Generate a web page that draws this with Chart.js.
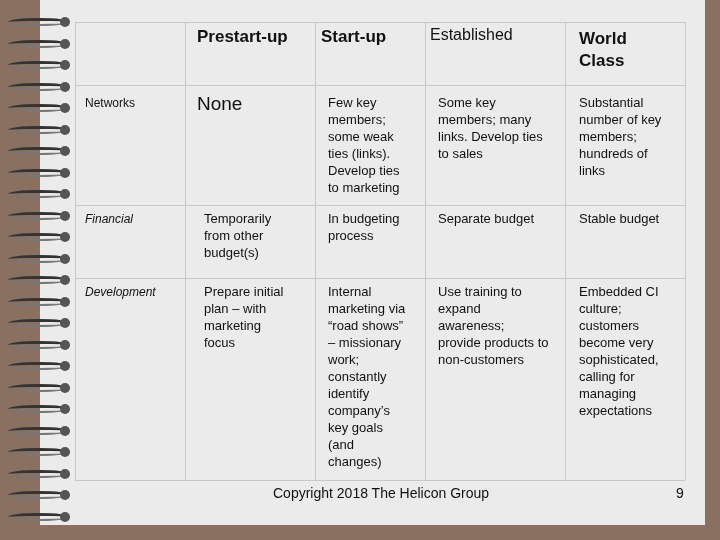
<!DOCTYPE html>
<html><head><meta charset="utf-8">
<script src="https://cdn.jsdelivr.net/npm/chart.js@4"></script>
<style>
body{margin:0;width:720px;height:540px;background:#8a7060;position:relative;overflow:hidden;font-family:"Liberation Sans",Arial,sans-serif;}
#page{position:absolute;left:40px;top:0;width:665px;height:525px;background:#ebebeb;}
#c{position:absolute;left:0;top:0;}
.t{position:absolute;font-size:13px;line-height:17px;color:#111;}
.h{font-size:17px;font-weight:bold;line-height:22px;}
.ring{position:absolute;left:8px;width:62px;height:8px;border-radius:50%;border-top:3px solid #333;border-bottom:2px solid #777;box-sizing:border-box;}
.hole{position:absolute;left:60px;width:10px;height:10px;border-radius:50%;background:#555;}
</style></head><body>
<div id="page"></div>
<div id="rings"></div>
<canvas id="c" width="720" height="540"></canvas>
<div id="txt"></div>
<script>
const colBorders=[75,185,315,425,565,685];
const rowBorders=[22,85,205,278,480];
const headers=["Prestart-up","Start-up","Established","World\nClass"];
const rowLabels=["Networks","Financial","Development"];
const cells=[
["None","Few key members; some weak ties (links). Develop ties to marketing","Some key members; many links. Develop ties to sales","Substantial number of key members; hundreds of links"],
["Temporarily from other budget(s)","In budgeting process","Separate budget","Stable budget"],
["Prepare initial plan – with marketing focus","Internal marketing via “road shows” – missionary work; constantly identify company’s key goals (and changes)","Use training to expand awareness; provide products to non-customers","Embedded CI culture; customers become very sophisticated, calling for managing expectations"]];
const footer="Copyright 2018 The Helicon Group";

let r='';for(let y=18;y<520;y+=21.5){r+=`<div class="ring" style="top:${y}px"></div><div class="hole" style="top:${y-1}px"></div>`;}
document.getElementById('rings').innerHTML=r;

const grid={id:'grid',afterDraw(ch){const c=ch.ctx,xs=ch.scales.x,ys=ch.scales.y;c.save();c.strokeStyle='#c8c8c8';c.lineWidth=1;
colBorders.forEach(v=>{const p=Math.round(xs.getPixelForValue(v))+.5;c.beginPath();c.moveTo(p,ys.getPixelForValue(rowBorders[0]));c.lineTo(p,ys.getPixelForValue(rowBorders[rowBorders.length-1]));c.stroke();});
rowBorders.forEach(v=>{const p=Math.round(ys.getPixelForValue(v))+.5;c.beginPath();c.moveTo(xs.getPixelForValue(colBorders[0]),p);c.lineTo(xs.getPixelForValue(colBorders[colBorders.length-1]),p);c.stroke();});
c.restore();}};
new Chart(document.getElementById('c'),{type:'scatter',data:{datasets:[{data:[]}]},
options:{responsive:false,animation:false,layout:{padding:0},plugins:{legend:{display:false},tooltip:{enabled:false}},
scales:{x:{type:'linear',min:0,max:720,display:false},y:{type:'linear',min:0,max:540,reverse:true,display:false}}},plugins:[grid]});

let h='';
const hx=[197,321,430,579],hy=[26,26,24,28];
headers.forEach((s,i)=>{h+=`<div class="t h" style="left:${hx[i]}px;top:${hy[i]}px;${i==2?'font-weight:normal;font-size:16px':''}">${s.replace('\n','<br>')}</div>`;});
const ry=[95,211,284],rx=[85,85,85];
rowLabels.forEach((s,i)=>{h+=`<div class="t" style="left:${rx[i]}px;top:${ry[i]}px;font-size:12px;${i?'font-style:italic':''}">${s}</div>`;});
const cx=[204,328,438,579],cw=[90,80,112,95];
cells.forEach((row,i)=>row.forEach((s,j)=>{
 if(i==0&&j==0){h+=`<div class="t" style="left:197px;top:92px;font-size:19px;line-height:24px">${s}</div>`;return;}
 h+=`<div class="t" style="left:${cx[j]}px;top:${ry[i]-1}px;width:${cw[j]}px">${s}</div>`;}));
h+=`<div class="t" style="left:273px;top:485px;font-size:14px">${footer}</div><div class="t" style="left:676px;top:485px;font-size:14px">9</div>`;
document.getElementById('txt').innerHTML=h;
</script></body></html>
